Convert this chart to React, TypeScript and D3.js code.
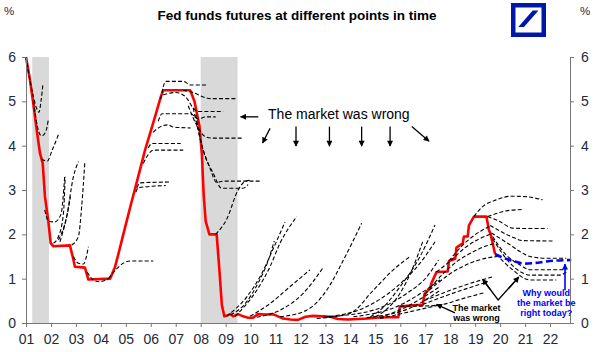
import React, { useEffect, useRef } from 'react';
import * as d3 from 'd3';

// year labels on the x axis (01 .. 22) and rate ticks
const years = d3.range(2001, 2023);
const rateTicks = [0, 1, 2, 3, 4, 5, 6];

// recessions (grey bands)
const recessions: [number, number][] = [
  [2001.25, 2001.92],
  [2008.0, 2009.48],
];

// effective fed funds rate (red)
const fedFunds: [number, number][] = [
  [2001.0, 6.0], [2001.16, 5.48], [2001.29, 4.96], [2001.43, 4.35], [2001.56, 3.83],
  [2001.67, 3.6], [2001.76, 2.85], [2001.89, 2.32], [2001.99, 1.8], [2002.1, 1.73],
  [2002.76, 1.75], [2002.87, 1.5], [2002.96, 1.27], [2003.36, 1.25], [2003.5, 0.98],
  [2004.37, 1.0], [2004.57, 1.27], [2004.7, 1.55], [2004.9, 2.0], [2005.17, 2.6],
  [2005.45, 3.2], [2005.77, 3.9], [2006.17, 4.65], [2006.4, 5.1], [2006.5, 5.25],
  [2007.58, 5.25], [2007.75, 5.0], [2007.95, 4.45], [2008.05, 3.8], [2008.12, 2.9],
  [2008.2, 2.3], [2008.35, 2.0], [2008.64, 2.0], [2008.75, 1.2], [2008.85, 0.4],
  [2008.95, 0.15], [2009.2, 0.2], [2009.3, 0.15], [2009.5, 0.2], [2009.7, 0.15],
  [2009.9, 0.12], [2010.1, 0.12], [2010.3, 0.2], [2010.6, 0.19], [2010.9, 0.2],
  [2011.1, 0.15], [2011.3, 0.1], [2011.6, 0.08], [2011.9, 0.07], [2012.2, 0.14],
  [2012.5, 0.16], [2012.9, 0.15], [2013.2, 0.14], [2013.5, 0.09], [2013.9, 0.08],
  [2014.3, 0.09], [2014.7, 0.1], [2015.0, 0.12], [2015.5, 0.13], [2015.92, 0.13],
  [2015.98, 0.37], [2016.5, 0.4], [2016.9, 0.41], [2016.97, 0.65], [2017.2, 0.8],
  [2017.25, 0.9], [2017.45, 1.15], [2017.9, 1.16], [2017.95, 1.4], [2018.2, 1.45],
  [2018.25, 1.7], [2018.5, 1.8], [2018.55, 1.95], [2018.7, 1.95], [2018.75, 2.2],
  [2018.95, 2.4], [2019.45, 2.4], [2019.55, 2.1], [2019.62, 2.0], [2019.7, 1.8],
  [2019.8, 1.55],
];

// today's futures curve (blue)
const today: [number, number][] = [
  [2019.8, 1.55], [2020.0, 1.5], [2020.5, 1.4], [2021.0, 1.34], [2021.5, 1.36],
  [2022.0, 1.4], [2022.85, 1.42],
];

// past futures curves (black dashed)
const futures2001: [number, number][][] = [
  [[2001.0, 6.0], [2001.15, 5.5], [2001.3, 5.1], [2001.42, 4.85], [2001.52, 4.75], [2001.6, 5.0], [2001.68, 5.4]],
  [[2001.3, 5.0], [2001.45, 4.45], [2001.62, 4.22], [2001.78, 4.3], [2001.9, 4.6]],
  [[2001.62, 3.7], [2001.85, 3.65], [2002.05, 3.9], [2002.3, 4.25]],
  [[2001.75, 2.55], [2001.9, 2.3], [2002.15, 2.28], [2002.4, 2.45], [2002.55, 3.3]],
  [[2002.1, 1.8], [2002.3, 1.95], [2002.5, 2.47], [2002.57, 3.3]],
  [[2002.3, 1.87], [2002.63, 2.4], [2002.9, 3.3], [2003.1, 3.64]],
  [[2002.36, 1.83], [2002.7, 2.59], [2002.78, 2.85]],
  [[2002.83, 1.76], [2003.1, 1.95], [2003.23, 2.62], [2003.36, 3.64]],
  [[2002.9, 1.5], [2003.1, 1.35], [2003.3, 1.33], [2003.5, 1.72]],
  [[2003.45, 1.15], [2003.7, 0.97], [2003.95, 0.93], [2004.3, 1.0]],
  [[2004.3, 1.0], [2004.6, 1.2], [2004.9, 1.35], [2005.2, 1.4], [2006.1, 1.4]],
];

const futures2005: [number, number][][] = [
  [[2005.4, 2.95], [2005.5, 3.05], [2006.6, 3.1]],
  [[2005.45, 3.05], [2005.55, 3.16], [2006.75, 3.18]],
  [[2005.7, 3.6], [2005.9, 3.8], [2006.1, 3.9], [2007.3, 3.9]],
  [[2005.9, 3.95], [2006.05, 4.05], [2007.2, 4.05]],
  [[2006.1, 4.3], [2006.25, 4.38], [2006.7, 4.47], [2006.9, 4.42], [2007.6, 4.4]],
  [[2006.3, 4.55], [2006.45, 4.72], [2007.6, 4.72], [2007.9, 4.6], [2008.2, 4.65], [2008.6, 4.65]],
  [[2006.4, 5.05], [2006.6, 5.45], [2007.3, 5.45], [2007.6, 5.37], [2008.3, 5.37]],
  [[2006.5, 5.15], [2007.0, 5.2], [2007.4, 5.1], [2007.7, 4.85], [2007.9, 4.77], [2008.9, 4.77]],
  [[2007.3, 5.25], [2007.7, 5.2], [2008.1, 5.1], [2008.4, 5.06], [2009.4, 5.06]],
  [[2007.5, 4.9], [2007.85, 4.45], [2008.2, 4.2], [2008.5, 4.17], [2009.65, 4.17]],
  [[2007.7, 4.85], [2008.04, 4.02], [2008.37, 3.5], [2008.64, 3.17], [2008.9, 3.2], [2010.45, 3.2]],
  [[2007.8, 4.7], [2008.1, 3.9], [2008.5, 3.38], [2008.84, 3.04], [2009.7, 3.04], [2009.9, 3.12]],
  [[2008.6, 2.0], [2009.05, 2.35], [2009.5, 3.0], [2009.8, 3.2], [2010.0, 3.22]],
];

const futures2009: [number, number][][] = [
  [[2009.04, 0.15], [2009.85, 0.59], [2010.45, 1.12], [2010.91, 1.68], [2011.38, 2.28]],
  [[2009.2, 0.18], [2009.8, 0.45], [2010.3, 0.9], [2010.7, 1.4], [2010.95, 1.85]],
  [[2009.38, 0.15], [2010.25, 0.74], [2010.78, 1.27], [2011.18, 1.8], [2011.85, 2.4]],
  [[2009.98, 0.15], [2010.78, 0.44], [2011.58, 0.82], [2012.38, 1.2]],
  [[2010.25, 0.13], [2011.18, 0.29], [2012.11, 0.67], [2012.92, 1.26]],
  [[2011.18, 0.14], [2012.25, 0.29], [2013.05, 0.74], [2013.72, 1.42], [2014.45, 2.25]],
  [[2012.65, 0.1], [2013.99, 0.22], [2014.92, 0.74], [2015.72, 1.2], [2016.39, 1.5]],
  [[2012.92, 0.13], [2014.66, 0.37], [2015.86, 0.82], [2016.79, 1.35], [2017.39, 1.83]],
  [[2013.05, 0.14], [2014.92, 0.29], [2016.26, 0.67], [2017.06, 1.04], [2017.53, 1.42]],
  [[2014.12, 0.14], [2015.86, 0.37], [2017.59, 0.97]],
  [[2014.65, 0.12], [2016.52, 0.37], [2017.6, 0.74]],
  [[2015.19, 0.1], [2017.6, 0.41]],
  [[2015.19, 0.12], [2016.26, 0.37], [2017.06, 0.63], [2017.59, 0.82]],
  [[2014.8, 0.14], [2015.19, 0.29], [2015.99, 0.82], [2016.79, 1.5], [2017.39, 2.21]],
  [[2015.0, 0.14], [2015.32, 0.25], [2015.99, 0.67], [2016.52, 1.27], [2016.92, 1.87]],
];

const futures2016: [number, number][][] = [
  [[2016.0, 0.38], [2016.8, 0.38], [2017.7, 0.42], [2018.5, 0.55], [2019.35, 0.68]],
  [[2016.9, 0.42], [2018.0, 0.65], [2019.35, 0.9]],
  [[2016.95, 0.5], [2018.3, 0.8], [2019.75, 1.05]],
  [[2016.97, 0.65], [2017.5, 0.9], [2018.1, 1.15], [2018.8, 1.35], [2019.5, 1.47], [2019.9, 1.5]],
  [[2017.2, 0.8], [2017.7, 1.1], [2018.3, 1.4], [2018.9, 1.6], [2019.5, 1.75], [2019.85, 1.8]],
  [[2017.45, 1.15], [2018.0, 1.4], [2018.6, 1.7], [2019.1, 1.88], [2019.6, 2.0]],
  [[2017.95, 1.4], [2018.4, 1.7], [2018.9, 1.95], [2019.3, 2.1], [2019.65, 2.2]],
];

const futures2019: [number, number][][] = [
  [[2018.95, 2.4], [2019.25, 2.6], [2019.85, 2.78], [2020.45, 2.86], [2021.0, 2.85], [2021.7, 2.78]],
  [[2019.5, 2.4], [2019.85, 2.47], [2020.25, 2.53], [2020.9, 2.56]],
  [[2019.5, 2.4], [2019.95, 2.3], [2020.5, 2.14], [2021.2, 2.13], [2021.9, 2.13]],
  [[2019.6, 2.2], [2020.45, 1.95], [2020.9, 1.86], [2022.1, 1.85]],
  [[2019.65, 2.03], [2020.3, 1.8], [2020.8, 1.61], [2021.2, 1.5], [2021.85, 1.46], [2022.65, 1.46]],
  [[2019.7, 1.95], [2020.25, 1.53], [2020.8, 1.31], [2021.2, 1.2], [2022.1, 1.2], [2022.65, 1.2]],
  [[2019.7, 1.9], [2020.4, 1.35], [2020.8, 1.16], [2021.2, 1.08], [2022.4, 1.08], [2022.65, 1.15]],
  [[2019.85, 1.55], [2020.5, 1.2], [2021.2, 0.97], [2022.25, 0.97]],
];

const textColor = '#222a3a';

export default function App() {
  const svgRef = useRef<SVGSVGElement>(null);

  useEffect(() => {
    const svg = d3.select(svgRef.current);
    svg.selectAll('*').remove();

    const x = d3.scaleLinear().domain([2001, 2022.8]).range([26, 570]);
    const y = d3.scaleLinear().domain([0, 6]).range([323, 57]);

    const defs = svg.append('defs');
    const addMarker = (id: string, color: string) =>
      defs
        .append('marker')
        .attr('id', id)
        .attr('viewBox', '0 0 10 10')
        .attr('refX', 9)
        .attr('refY', 5)
        .attr('markerUnits', 'userSpaceOnUse')
        .attr('markerWidth', 7)
        .attr('markerHeight', 6)
        .attr('orient', 'auto')
        .append('path')
        .attr('d', 'M0,0L10,5L0,10z')
        .attr('fill', color);
    addMarker('head', '#000');
    addMarker('headBlue', '#0000ff');

    // recession bands
    svg
      .append('g')
      .selectAll('rect')
      .data(recessions)
      .join('rect')
      .attr('x', (d) => x(d[0]))
      .attr('width', (d) => x(d[1]) - x(d[0]))
      .attr('y', y(6))
      .attr('height', y(0) - y(6))
      .attr('fill', '#d9d9d9');

    const line = d3
      .line<[number, number]>()
      .x((d) => x(d[0]))
      .y((d) => y(d[1]));
    const smooth = d3
      .line<[number, number]>()
      .x((d) => x(d[0]))
      .y((d) => y(d[1]))
      .curve(d3.curveMonotoneX);

    svg
      .append('path')
      .datum(fedFunds)
      .attr('d', line)
      .attr('fill', 'none')
      .attr('stroke', '#ff0000')
      .attr('stroke-width', 2.6)
      .attr('stroke-linejoin', 'round');

    const allFutures = [...futures2001, ...futures2005, ...futures2009, ...futures2016, ...futures2019];
    svg
      .append('g')
      .selectAll('path')
      .data(allFutures)
      .join('path')
      .attr('d', (d) => smooth(d))
      .attr('fill', 'none')
      .attr('stroke', '#000')
      .attr('stroke-width', 1.1)
      .attr('stroke-dasharray', '4 2.2');

    svg
      .append('path')
      .datum(today)
      .attr('d', smooth)
      .attr('fill', 'none')
      .attr('stroke', '#0000ff')
      .attr('stroke-width', 2.6)
      .attr('stroke-dasharray', '7 3.5');

    // axes
    const styleAxis = (g: d3.Selection<SVGGElement, unknown, null, undefined>) => {
      g.selectAll('.domain').attr('stroke', '#777');
      g.selectAll('.tick line').attr('stroke', '#777');
      g.selectAll('.tick text')
        .attr('fill', textColor)
        .style('font-family', 'Arial, "Liberation Sans", sans-serif')
        .style('font-size', '14px');
    };

    svg
      .append('g')
      .attr('transform', `translate(0,${y(0)})`)
      .call(
        d3
          .axisBottom(x)
          .tickValues(years)
          .tickFormat((d) => String(+d % 100).padStart(2, '0'))
          .tickSize(4)
          .tickSizeOuter(0)
          .tickPadding(7)
      )
      .call(styleAxis);

    svg
      .append('g')
      .attr('transform', `translate(${x(2001)},0)`)
      .call(d3.axisLeft(y).tickValues(rateTicks).tickFormat(d3.format('d')).tickSize(4).tickSizeOuter(0).tickPadding(6))
      .call(styleAxis);

    svg
      .append('g')
      .attr('transform', `translate(${x(2022.8)},0)`)
      .call(d3.axisRight(y).tickValues(rateTicks).tickFormat(d3.format('d')).tickSize(4).tickSizeOuter(0).tickPadding(7))
      .call(styleAxis);

    // annotations
    const font = 'Arial, "Liberation Sans", sans-serif';
    const arrow = (from: [number, number], to: [number, number], color = '#000', w = 1.3) =>
      svg
        .append('line')
        .attr('x1', x(from[0]))
        .attr('y1', y(from[1]))
        .attr('x2', x(to[0]))
        .attr('y2', y(to[1]))
        .attr('stroke', color)
        .attr('stroke-width', w)
        .attr('marker-end', color === '#000' ? 'url(#head)' : 'url(#headBlue)');

    svg
      .append('text')
      .attr('x', x(2010.7))
      .attr('y', y(4.6))
      .attr('fill', '#000')
      .style('font-family', font)
      .style('font-size', '14px')
      .text('The market was wrong');

    arrow([2010.31, 4.65], [2009.6, 4.65]);
    arrow([2010.78, 4.39], [2010.48, 4.06]);
    [2011.82, 2013.16, 2014.45, 2015.59].forEach((yr) => arrow([yr, 4.43], [yr, 3.99]));
    arrow([2016.46, 4.43], [2017.15, 4.1]);

    // lower annotation
    const small = svg
      .append('text')
      .attr('fill', '#000')
      .attr('text-anchor', 'middle')
      .style('font-family', font)
      .style('font-size', '9px')
      .style('font-weight', 'bold');
    small.append('tspan').attr('x', x(2019.05)).attr('y', y(0.28)).text('The market');
    small.append('tspan').attr('x', x(2019.05)).attr('y', y(0.05)).text('was wrong');
    arrow([2018.19, 0.23], [2017.45, 0.42]);

    svg
      .append('path')
      .attr('d', `M${x(2019.32)},${y(0.97)}L${x(2019.92)},${y(0.52)}L${x(2020.72)},${y(1.02)}`)
      .attr('fill', 'none')
      .attr('stroke', '#000')
      .attr('stroke-width', 1.3);
    arrow([2019.6, 0.76], [2019.3, 0.99]);
    arrow([2020.35, 0.78], [2020.75, 1.04]);

    // blue question
    arrow([2022.6, 0.74], [2022.6, 1.33], '#0000ff', 1.6);
    const blue = svg
      .append('text')
      .attr('fill', '#0000ff')
      .attr('text-anchor', 'middle')
      .style('font-family', font)
      .style('font-size', '9px')
      .style('font-weight', 'bold');
    blue.append('tspan').attr('x', x(2021.85)).attr('y', y(0.6)).text('Why would');
    blue.append('tspan').attr('x', x(2021.85)).attr('y', y(0.38)).text('the market be');
    blue.append('tspan').attr('x', x(2021.85)).attr('y', y(0.16)).text('right today?');

    // title and units
    svg
      .append('text')
      .attr('x', 297)
      .attr('y', 20)
      .attr('text-anchor', 'middle')
      .attr('fill', '#000')
      .style('font-family', font)
      .style('font-size', '13.5px')
      .style('font-weight', 'bold')
      .text('Fed funds futures at different points in time');
    [4, 580].forEach((px) =>
      svg
        .append('text')
        .attr('x', px)
        .attr('y', 15)
        .attr('fill', textColor)
        .style('font-family', font)
        .style('font-size', '11.5px')
        .text('%')
    );

    // logo
    const logo = svg.append('g').attr('transform', 'translate(511,3)');
    logo.append('rect').attr('width', 35).attr('height', 34).attr('fill', '#0018a8');
    logo.append('rect').attr('x', 4.5).attr('y', 4.5).attr('width', 26).attr('height', 25).attr('fill', '#fff');
    logo.append('path').attr('d', 'M7.3,24L13,24L27.5,7.5L21.7,7.5Z').attr('fill', '#0018a8');
  }, []);

  return (
    <svg
      ref={svgRef}
      width={600}
      height={352}
      style={{ position: 'absolute', left: 0, top: 0, background: '#fff' }}
    />
  );
}
